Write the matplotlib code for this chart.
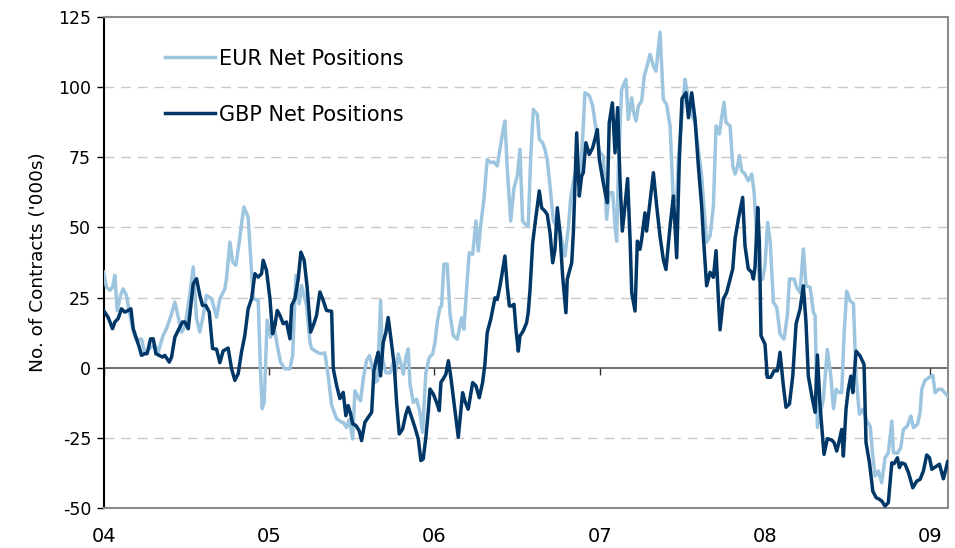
import matplotlib
matplotlib.use("Agg")
import matplotlib.pyplot as plt
import numpy as np

plt.rcParams['font.family'] = ['DejaVu Sans']
plt.rcParams['axes.unicode_minus'] = False

# ---- data (x = decimal year offsets from 2004) ----
eur_t = [0.000, 0.017, 0.038, 0.054, 0.068, 0.082, 0.102, 0.118, 0.138, 0.154,
         0.179, 0.199, 0.229, 0.249, 0.280, 0.310, 0.330, 0.360, 0.380, 0.411,
         0.431, 0.447, 0.471, 0.491, 0.518, 0.542, 0.562, 0.582, 0.602, 0.622,
         0.653, 0.683, 0.703,
         0.733, 0.743, 0.764, 0.780, 0.800, 0.820, 0.848, 0.874, 0.895, 0.905,
         0.935, 0.949, 0.959, 0.971, 0.989, 1.010, 1.026, 1.050, 1.070, 1.096,
         1.127, 1.143, 1.163, 1.183, 1.197, 1.227, 1.248, 1.258, 1.298, 1.318,
         1.338, 1.358, 1.379, 1.409, 1.439,
         1.449, 1.469, 1.485, 1.496, 1.506, 1.520, 1.540, 1.554, 1.570, 1.590,
         1.607, 1.621, 1.641, 1.657, 1.675, 1.687, 1.707, 1.732, 1.752, 1.762,
         1.782, 1.796, 1.812, 1.828, 1.842, 1.853, 1.873, 1.893, 1.913, 1.929,
         1.949, 1.970, 1.990, 2.004, 2.018, 2.034, 2.044, 2.058, 2.078, 2.095,
         2.115, 2.139,
         2.165, 2.179, 2.195, 2.211, 2.232, 2.252, 2.266, 2.280, 2.300, 2.320,
         2.341, 2.361, 2.381, 2.397, 2.413, 2.427, 2.441, 2.462, 2.482, 2.502,
         2.518, 2.534, 2.550, 2.568, 2.583, 2.599, 2.623, 2.635, 2.655, 2.669,
         2.683, 2.700, 2.720, 2.740, 2.760, 2.790, 2.811, 2.825, 2.851, 2.871,
         2.885, 2.901,
         2.911, 2.937, 2.958, 2.978, 2.998, 3.022, 3.042, 3.058, 3.079, 3.093,
         3.103, 3.113, 3.123, 3.133, 3.159, 3.173, 3.194, 3.204, 3.220, 3.234,
         3.254, 3.270, 3.284, 3.305, 3.325, 3.341, 3.365, 3.385, 3.405, 3.426,
         3.446, 3.466, 3.476, 3.496, 3.516, 3.530, 3.557, 3.577, 3.597, 3.617,
         3.627, 3.647, 3.668, 3.688, 3.704, 3.724, 3.738, 3.752, 3.764, 3.789,
         3.805, 3.819, 3.833, 3.845, 3.859, 3.879, 3.899, 3.920, 3.934, 3.946,
         3.966, 3.986, 4.000, 4.016, 4.031, 4.051, 4.071, 4.091, 4.115, 4.135,
         4.148, 4.176, 4.192, 4.212, 4.232, 4.248, 4.273, 4.293, 4.303, 4.317,
         4.353, 4.377, 4.398, 4.414, 4.430, 4.450, 4.464, 4.478, 4.494, 4.515,
         4.535, 4.551, 4.571, 4.591, 4.615, 4.636, 4.652, 4.666, 4.686, 4.706,
         4.726, 4.746, 4.767, 4.777, 4.801, 4.821, 4.837, 4.861, 4.882, 4.898,
         4.922, 4.938, 4.948, 4.968, 4.989, 5.015, 5.029, 5.049, 5.069, 5.089,
         5.105]
eur_v = [34.1, 28.7, 27.6, 28.7, 32.9, 20.4, 25.8, 28.1, 25.8, 20.4,
         13.0, 9.7, 10.3, 5.0, 7.0, 8.0, 5.6, 11.5, 13.9, 19.2,
         23.4, 19.2, 12.7, 14.5, 24.6, 35.9, 17.5, 12.7, 18.5, 25.8,
         24.6, 18.0, 24.6,
         28.1, 31.7, 44.8, 37.7, 36.5, 44.8, 57.3, 53.7, 34.1, 24.6,
         24.0, -1.5, -14.6, -12.2, 16.9, 10.9, 16.3, 8.0, 2.0, -0.4,
         -0.4, 4.4, 32.9, 22.8, 29.3, 22.2, 9.1, 6.8, 5.3, 5.0,
         5.3, -2.7, -13.4, -18.2, -19.4,
         -19.5, -21.3, -18.5, -21.9, -25.4, -8.2, -10.6, -11.8, -4.0, 2.5,
         4.3, 1.3, -5.2, -4.6, 23.9, 3.1, -1.7, -1.9, 1.9, -2.9,
         4.9, 1.9, -2.3, 3.7, 6.7, -5.8, -12.4, -11.2, -15.9, -23.0,
         -1.7, 3.7, 4.9, 9.0, 16.2, 21.5, 22.0, 36.9, 36.9, 19.1,
         11.4, 10.2,
         17.8, 13.7, 27.9, 41.0, 40.4, 52.3, 41.6, 50.5, 60.0, 74.2,
         73.1, 73.3, 71.9, 77.8, 83.7, 87.9, 71.3, 52.3, 64.1, 68.3,
         77.8, 52.3, 51.1, 50.5, 74.8, 92.0, 90.3, 81.4, 80.2, 77.8,
         74.2, 64.7, 52.3, 50.5, 48.7, 39.8, 50.0, 60.6, 69.5, 66.0,
         69.0, 86.1,
         98.0, 97.0, 93.3, 84.9, 77.2, 75.4, 52.9, 62.4, 62.4, 50.5,
         45.1, 70.7, 84.9, 99.2, 102.8, 88.5, 96.2, 91.5, 87.9, 93.3,
         95.0, 104.0, 106.9, 111.7, 107.5, 105.7, 119.6, 95.6, 93.8, 86.1,
         58.8, 60.0, 74.2, 88.5, 102.8, 98.0, 90.3, 87.3, 77.8, 68.3,
         60.1, 44.7, 47.0, 57.7, 86.2, 83.3, 89.2, 94.6, 87.4, 86.2,
         72.0, 69.0, 71.5, 75.6, 70.2, 69.0, 66.6, 69.0, 62.5, 50.6,
         31.0, 31.6, 36.4, 51.8, 45.3, 23.3, 21.5, 12.0, 10.2, 18.5,
         31.6, 31.6, 28.6, 26.8, 42.3, 29.2, 28.6, 19.7, 18.5, -21.3,
         -11.3, 6.5, -3.0, -14.6, -7.7, -8.9, -8.9, 11.3, 27.3, 23.8,
         22.9, -3.6, -16.6, -14.8, -19.0, -20.8, -31.5, -38.6, -36.8, -41.0,
         -32.1, -30.3, -19.0, -30.3, -30.5, -28.5, -22.0, -20.8, -17.2, -21.4,
         -20.2, -16.0, -7.7, -4.5, -3.6, -2.7, -8.9, -7.7, -7.7, -9.1,
         -10.1]

gbp_t = [0.000, 0.027, 0.054, 0.068, 0.088, 0.108, 0.128, 0.148, 0.165, 0.179,
         0.199, 0.215, 0.229, 0.249, 0.263, 0.284, 0.300, 0.316, 0.336, 0.356,
         0.370, 0.397, 0.411, 0.431, 0.451, 0.477, 0.491, 0.512, 0.542, 0.562,
         0.582, 0.598, 0.618, 0.639, 0.659, 0.683, 0.703,
         0.723, 0.753, 0.774, 0.794, 0.814, 0.834, 0.854, 0.874, 0.895, 0.915,
         0.935, 0.955, 0.965, 0.985, 1.006, 1.022, 1.036, 1.050, 1.066, 1.086,
         1.106, 1.127, 1.137, 1.157, 1.177, 1.193, 1.213, 1.231, 1.252, 1.272,
         1.288, 1.308, 1.328, 1.348, 1.379, 1.389, 1.409, 1.429,
         1.449, 1.465, 1.479, 1.494, 1.506, 1.526, 1.546, 1.560, 1.580, 1.600,
         1.621, 1.635, 1.647, 1.661, 1.675, 1.691, 1.707, 1.721, 1.738, 1.758,
         1.772, 1.788, 1.808, 1.828, 1.842, 1.863, 1.883, 1.903, 1.919, 1.933,
         1.949, 1.964, 1.974, 1.994, 2.014, 2.030, 2.040, 2.054, 2.070, 2.085,
         2.099, 2.115, 2.131, 2.145,
         2.171, 2.185, 2.205, 2.232, 2.252, 2.272, 2.292, 2.306, 2.320, 2.341,
         2.367, 2.381, 2.397, 2.411, 2.427, 2.441, 2.454, 2.468, 2.482, 2.494,
         2.508, 2.518, 2.538, 2.558, 2.568, 2.579, 2.595, 2.615, 2.635, 2.649,
         2.669, 2.683, 2.700, 2.716, 2.730, 2.744, 2.760, 2.776, 2.796, 2.804,
         2.831, 2.841, 2.861, 2.877, 2.891,
         2.901, 2.917, 2.937, 2.958, 2.986, 2.998, 3.022, 3.046, 3.058, 3.077,
         3.093, 3.109, 3.123, 3.137, 3.153, 3.169, 3.184, 3.194, 3.214, 3.228,
         3.244, 3.254, 3.274, 3.284, 3.305, 3.325, 3.345, 3.365, 3.385, 3.401,
         3.426, 3.446, 3.466, 3.482, 3.498, 3.522, 3.537, 3.557, 3.577, 3.597,
         3.617,
         3.627, 3.647, 3.668, 3.688, 3.704, 3.718, 3.728, 3.748, 3.768, 3.805,
         3.819, 3.839, 3.865, 3.879, 3.899, 3.920, 3.930, 3.940, 3.956, 3.966,
         3.976, 4.000, 4.014, 4.035, 4.055, 4.075, 4.091, 4.111, 4.127, 4.148,
         4.168, 4.188, 4.212, 4.232, 4.248, 4.262, 4.283, 4.303, 4.317, 4.333,
         4.357, 4.377, 4.404, 4.418, 4.434, 4.450, 4.464, 4.474, 4.490, 4.504,
         4.519, 4.531, 4.551, 4.575, 4.599, 4.611, 4.632, 4.652, 4.672, 4.692,
         4.706, 4.726, 4.746, 4.767, 4.781, 4.801, 4.813, 4.827, 4.847, 4.868,
         4.894, 4.918, 4.938, 4.958, 4.978, 4.995, 5.009, 5.039, 5.055, 5.079,
         5.099, 5.105]
gbp_v = [20.4, 18.0, 13.9, 16.3, 17.5, 21.0, 19.8, 20.4, 21.0, 13.9,
         10.3, 7.4, 4.4, 5.0, 5.0, 10.3, 10.3, 5.0, 4.4, 3.8,
         4.4, 2.0, 3.8, 10.9, 13.3, 16.3, 16.3, 13.9, 29.9, 31.7,
         25.8, 22.2, 22.2, 19.8, 6.8, 6.6, 1.8,
         6.0, 7.0, -0.4, -4.5, -2.1, 5.6, 11.5, 21.0, 24.6, 33.5,
         32.3, 33.5, 38.3, 34.7, 24.6, 12.1, 15.1, 20.4, 18.7, 15.7,
         16.3, 10.3, 22.2, 24.6, 31.7, 41.2, 38.3, 28.7, 12.7, 15.7,
         18.7, 27.0, 24.0, 20.4, 20.1, -0.4, -6.3, -11.0,
         -8.8, -17.1, -13.5, -16.5, -20.0, -20.6, -22.5, -26.0, -19.5, -17.7,
         -15.9, -1.1, 2.5, 5.5, -2.9, 9.0, 12.6, 17.9, 10.2, 0.7,
         -12.4, -23.6, -21.9, -16.5, -14.1, -17.7, -21.3, -25.4, -33.1, -32.5,
         -24.8, -15.3, -7.6, -9.4, -12.4, -15.3, -5.2, -4.0, -2.3, 2.5,
         -2.9, -10.6, -18.3, -24.8,
         -8.9, -11.9, -14.8, -5.3, -6.5, -10.7, -5.3, 1.2, 12.5, 17.2,
         24.9, 24.3, 29.1, 33.9, 39.8, 29.1, 22.0, 22.0, 22.6, 13.7,
         5.9, 11.3, 13.1, 16.0, 19.6, 27.9, 44.5, 54.0, 63.0, 57.0,
         55.8, 54.6, 48.1, 37.4, 42.2, 57.0, 48.1, 32.7, 19.6, 31.5,
         37.4, 48.1, 83.7, 61.2, 68.3,
         69.5, 80.2, 76.0, 78.4, 84.9, 74.2, 65.9, 58.8, 87.3, 94.4,
         76.6, 92.7, 67.1, 48.7, 57.6, 67.4, 45.7, 26.7, 20.2, 45.1,
         42.2, 45.7, 55.2, 48.7, 59.4, 69.5, 57.6, 46.9, 38.6, 35.0,
         50.5, 61.2, 39.2, 74.2, 95.9, 98.0, 89.1, 98.0, 88.5, 71.9,
         57.6,
         47.0, 29.2, 34.0, 32.2, 41.7, 24.5, 13.5, 24.5, 26.8, 35.2,
         45.9, 53.0, 60.7, 43.5, 35.2, 34.0, 31.6, 36.0, 57.1, 44.7,
         11.4, 8.4, -3.4, -3.4, -1.1, -1.1, 5.5, -6.4, -14.1, -12.9,
         -2.9, 15.6, 20.9, 29.2, 16.2, -2.9, -10.0, -15.9, 4.5, -13.5,
         -30.9, -25.3, -25.8, -26.7, -29.7, -25.8, -22.0, -31.5, -14.8, -7.7,
         -3.0, -8.9, 5.9, 4.2, 1.2, -26.7, -33.9, -44.0, -46.3, -46.9,
         -47.5, -49.3, -48.1, -33.9, -34.2, -32.1, -35.6, -33.9, -34.4, -37.4,
         -42.8, -40.4, -39.8, -36.8, -31.1, -32.1, -36.2, -35.0, -34.4, -39.6,
         -35.0, -33.5]

base_year = 2004
year_ticks = [2004, 2005, 2006, 2007, 2008, 2009]
year_labels = ['04', '05', '06', '07', '08', '09']
y_ticks = [-50, -25, 0, 25, 50, 75, 100, 125]

eur_x = np.array(eur_t) + base_year
gbp_x = np.array(gbp_t) + base_year

EUR_COL = '#9dc5df'
GBP_COL = '#003767'

fig = plt.figure(figsize=(9.55, 5.48), dpi=100)
ax = fig.add_axes([0.1085, 0.073, 0.8842, 0.896])

# gridlines
for yv in y_ticks:
    if yv not in (0, -50, 125):
        ax.axhline(yv, color='#c8c8c8', lw=1.0, ls=(0, (7, 5)), zorder=1)
ax.axhline(0, color='#555555', lw=1.2, zorder=2)

ax.plot(eur_x, eur_v, color=EUR_COL, lw=2.5, label='EUR Net Positions', zorder=3,
        solid_joinstyle='round')
ax.plot(gbp_x, gbp_v, color=GBP_COL, lw=2.5, label='GBP Net Positions', zorder=4,
        solid_joinstyle='round')

# tick marks on the zero line
ax.plot(year_ticks, [0] * len(year_ticks), ls='none', marker=3, ms=5,
        mew=1.0, color='#333333', zorder=2, clip_on=False)

ax.set_xlim(2004, 2005.107 + 4)
ax.set_ylim(-50, 125)
ax.set_yticks(y_ticks)
ax.set_yticklabels([str(v) for v in y_ticks], fontsize=12.5)
ax.set_xticks(year_ticks)
ax.set_xticklabels(year_labels, fontsize=14)
ax.tick_params(axis='x', length=0, pad=14)
ax.tick_params(axis='y', length=5, width=1.0, direction='out', pad=4, color='black')

for s in ['top', 'right', 'bottom']:
    ax.spines[s].set_color('#8c8c8c')
    ax.spines[s].set_linewidth(1.5)
ax.spines['left'].set_color('black')
ax.spines['left'].set_linewidth(1.5)

ax.set_ylabel("No. of Contracts ('000s)", fontsize=13.3, labelpad=8)

leg = ax.legend(loc='upper left', bbox_to_anchor=(0.051, 0.974), frameon=False,
                fontsize=15, handlelength=2.4, handletextpad=0.15, labelspacing=1.73)

fig.savefig('out.png', dpi=100)
